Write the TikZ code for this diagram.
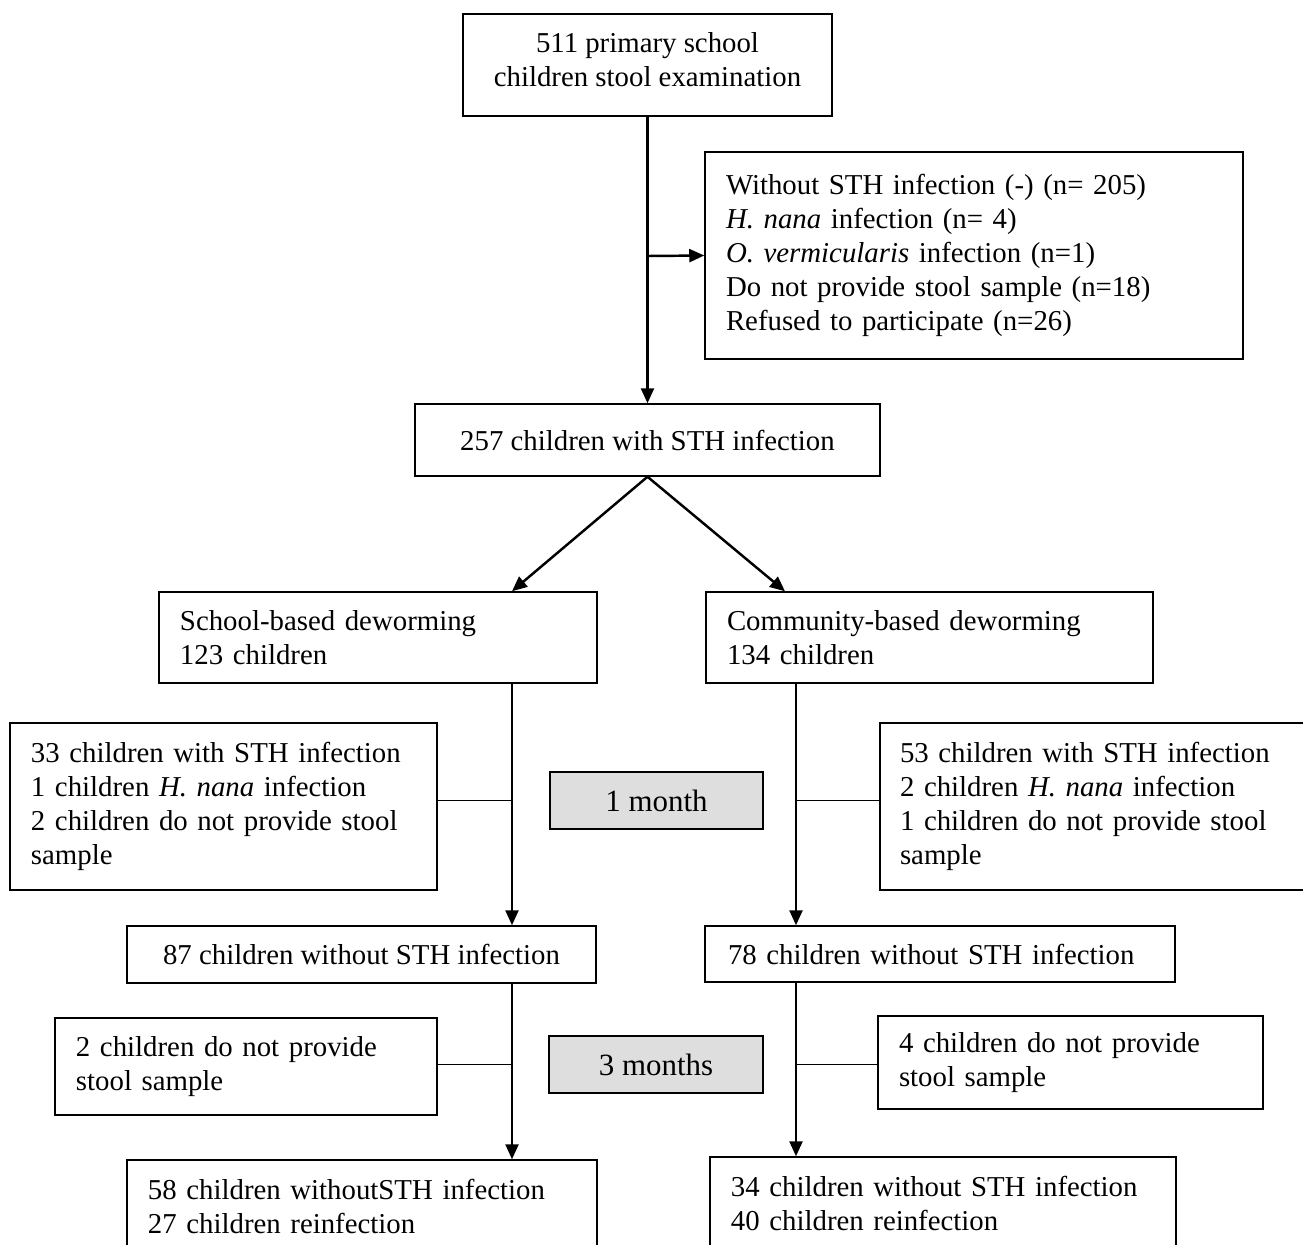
\documentclass[tikz,border=0pt]{standalone}
\usepackage{fontspec}
\setmainfont{Liberation Serif}
\usetikzlibrary{arrows.meta,positioning}

\def\pxu{0.02cm}
\tikzset{
  box/.style={draw, line width=0.85pt, inner xsep=0.42cm, inner ysep=0pt,
    font=\fontsize{16.4}{19.35}\selectfont},
  lbox/.style={box, align=left},
  cbox/.style={box, align=center},
  mbox/.style={box, align=center, fill=black!13, font=\fontsize{17.6}{20}\selectfont},
  arr/.style={line width=1.4pt, -{Triangle[length=0.3cm,width=0.26cm]}},
  link/.style={line width=0.7pt}
}

\begin{document}
\begin{tikzpicture}[x=0.02cm, y=-0.02cm]
            \clip (0,0) rectangle (1303,1245);

            % top of the chart
            \node[cbox, minimum width=369*\pxu, minimum height=102*\pxu] (exam) at (647.5,65)
                {511 primary school\\children stool examination\\[-13.5pt]};
            \node[lbox, minimum width=538*\pxu, minimum height=207*\pxu, text width=538*\pxu-0.84cm] (excluded) at (974,255.5)
                {Without STH infection (-) (n= 205)\\\textit{H. nana} infection (n= 4)\\\textit{O. vermicularis} infection (n=1)\\Do not provide stool sample (n=18)\\Refused to participate (n=26)\\[-5pt]};
            \node[cbox, minimum width=465*\pxu, minimum height=72*\pxu] (infected) at (647.5,440)
                {257 children with STH infection};

            % two arms
            \node[lbox, minimum width=438*\pxu, minimum height=91*\pxu, text width=438*\pxu-0.84cm] (school) at (378,637.5)
                {School-based deworming\\123 children};
            \node[lbox, minimum width=447*\pxu, minimum height=91*\pxu, text width=447*\pxu-0.84cm] (community) at (929.5,637.5)
                {Community-based deworming\\134 children};

            % after 1 month
            \node[lbox, minimum width=427*\pxu, minimum height=167*\pxu, text width=427*\pxu-0.84cm, inner xsep=0.4cm] (lossSchA) at (223.5,806.5)
                {33 children with STH infection\\1 children \textit{H. nana} infection\\2 children do not provide stool\\sample};
            \node[lbox, minimum width=430*\pxu, minimum height=167*\pxu, text width=430*\pxu-0.8cm, inner xsep=0.4cm] (lossComA) at (1095,806.5)
                {53 children with STH infection\\2 children \textit{H. nana} infection\\1 children do not provide stool\\sample};
            \node[mbox, minimum width=213*\pxu, minimum height=57*\pxu] (month1) at (656.5,800.5) {1 month};
            \node[cbox, minimum width=469*\pxu, minimum height=57*\pxu] (cleanSchA) at (361.5,954.5)
                {87 children without STH infection};
            \node[lbox, minimum width=466*\pxu, minimum height=56*\pxu, text width=466*\pxu-0.84cm, inner xsep=0.46cm] (cleanComA) at (940,954)
                {78 children without STH infection};

            % after 3 months
            \node[lbox, minimum width=382*\pxu, minimum height=97*\pxu, text width=382*\pxu-0.84cm] (lossSchB) at (246,1066.5)
                {2 children do not provide\\stool sample};
            \node[lbox, minimum width=385*\pxu, minimum height=93*\pxu, text width=385*\pxu-0.84cm] (lossComB) at (1070.5,1062.5)
                {4 children do not provide\\stool sample};
            \node[mbox, minimum width=214*\pxu, minimum height=57*\pxu] (month3) at (656,1064.5) {3 months};
            \node[lbox, minimum width=470*\pxu, minimum height=92*\pxu, text width=470*\pxu-0.84cm] (endSch) at (362,1206)
                {58 children withoutSTH infection\\27 children reinfection};
            \node[lbox, minimum width=466*\pxu, minimum height=92*\pxu, text width=466*\pxu-0.84cm, inner xsep=0.4cm] (endCom) at (943,1203)
                {34 children without STH infection\\40 children reinfection};

            % connectors
            \coordinate (split) at (647.5,256);
            \coordinate (colL) at (512,0);
            \coordinate (colR) at (796,0);
            \coordinate (diagR) at (785,0);

            \draw[arr] (exam) -- (infected);
            \draw[arr] (split) -- (excluded.west);
            \draw[arr] (infected.south) -- (school.north -| colL);
            \draw[arr] (infected.south) -- (community.north -| diagR);

            \draw[arr] (school.south -| colL) -- (cleanSchA.north -| colL);
            \draw[arr] (community.south -| colR) -- (cleanComA.north -| colR);
            \draw[link] (lossSchA.east |- month1) -- (month1 -| colL);
            \draw[link] (lossComA.west |- month1) -- (month1 -| colR);

            \draw[arr] (cleanSchA.south -| colL) -- (endSch.north -| colL);
            \draw[arr] (cleanComA.south -| colR) -- (endCom.north -| colR);
            \draw[link] (lossSchB.east |- month3) -- (month3 -| colL);
            \draw[link] (lossComB.west |- month3) -- (month3 -| colR);
        \end{tikzpicture}
\end{document}
